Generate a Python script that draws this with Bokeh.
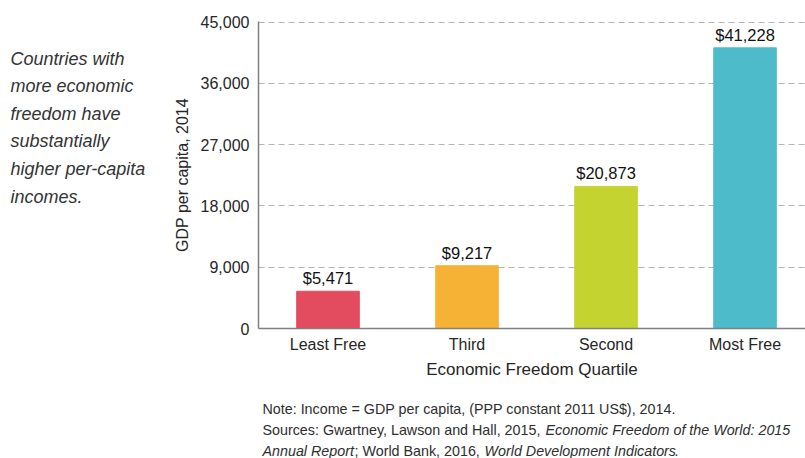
import numpy as np
from bokeh.plotting import figure
from bokeh.layouts import row, column
from bokeh.models import Range1d, FixedTicker, NumeralTickFormatter, ColumnDataSource
from bokeh.core.properties import value
from bokeh.embed import file_html
from bokeh.resources import INLINE

categories = ["Least Free", "Third", "Second", "Most Free"]
gdp = [5471, 9217, 20873, 41228]
colors = ["#E34B5F", "#F5B234", "#C5D330", "#4DBBC9"]
y_ticks = [0, 9000, 18000, 27000, 36000, 45000]
side_text = ["Countries with", "more economic", "freedom have", "substantially",
             "higher per-capita", "incomes."]

FONT = "Liberation Sans"
TXT = "#262626"

LEFT_W = 160
W, H = 805, 458
MAIN_H = 395
FRAME_L, FRAME_B = 258, 328

# ---------------- main chart ----------------
xs = np.arange(len(categories)) + 0.5
src = ColumnDataSource(dict(x=xs, top=gdp, color=colors,
                            lab=["${:,}".format(v) for v in gdp]))

p = figure(width=W - LEFT_W, height=MAIN_H, output_backend="svg", toolbar_location=None,
           x_range=Range1d(0, 3.935), y_range=Range1d(0, 45100),
           min_border_left=FRAME_L - LEFT_W, min_border_right=0, min_border_top=21,
           min_border_bottom=MAIN_H - FRAME_B, outline_line_color=None)

p.vbar(x="x", top="top", width=0.45, color="color", source=src)
p.text(x="x", y="top", text="lab", source=src, text_align="center",
       text_baseline="bottom", y_offset=-4, text_font=value(FONT),
       text_font_size="16.5px", text_color="#111111")

p.xaxis.ticker = FixedTicker(ticks=list(xs))
p.xaxis.major_label_overrides = {float(x): c for x, c in zip(xs, categories)}
p.yaxis.ticker = FixedTicker(ticks=y_ticks)
p.yaxis.formatter = NumeralTickFormatter(format="0,0")
for ax in (p.xaxis, p.yaxis):
    ax.major_tick_line_color = None
    ax.minor_tick_line_color = None
    ax.axis_line_color = "#808080"
    ax.axis_line_width = 1.5
    ax.major_label_text_font = FONT
    ax.major_label_text_font_size = "16px"
    ax.major_label_text_color = TXT
    ax.axis_label_text_font = FONT
    ax.axis_label_text_font_size = "17px"
    ax.axis_label_text_font_style = "normal"
    ax.axis_label_text_color = TXT
p.yaxis.axis_label = "GDP per capita, 2014"
p.yaxis.axis_label_text_font_size = "16px"
p.xaxis.axis_label = "Economic Freedom Quartile"
p.yaxis.major_label_standoff = 3
p.yaxis.axis_label_standoff = 7
p.xaxis.major_label_standoff = 1
p.xaxis.axis_label_standoff = 4

p.xgrid.grid_line_color = None
p.ygrid.grid_line_color = "#b5b5b5"
p.ygrid.grid_line_dash = "6 4"
p.ygrid.grid_line_width = 1


def text_panel(width, height, x0, y0, border_left=0):
    f = figure(width=width, height=height, output_backend="svg", toolbar_location=None,
               x_range=Range1d(x0 + border_left, x0 + width),
               y_range=Range1d(y0 + height, y0),
               x_axis_location=None, y_axis_location=None,
               min_border=0, min_border_left=border_left, outline_line_color=None)
    f.grid.visible = False
    return f


# ---------------- left italic text ----------------
left = text_panel(LEFT_W, H, 0, 0)
left.text(x=[10] * len(side_text), y=[58 + 27.6 * i for i in range(len(side_text))],
          text=side_text, text_font=value(FONT), text_font_size="18px",
          text_font_style="italic", text_color="#333333",
          text_baseline="middle", text_align="left")

# ---------------- notes ----------------
notes_x = [262, 262, 545, 262, 354, 484, 674]
notes_y = [408, 429, 429, 450, 450, 450, 450]
notes_t = ["Note: Income = GDP per capita, (PPP constant 2011 US$), 2014.",
           "Sources: Gwartney, Lawson and Hall, 2015, ",
           "Economic Freedom of the World: 2015",
           "Annual Report",
           "; World Bank, 2016, ",
           "World Development Indicators",
           "."]
notes_s = ["normal", "normal", "italic", "italic", "normal", "italic", "normal"]

bottom = text_panel(W - LEFT_W, H - MAIN_H, LEFT_W, MAIN_H, border_left=FRAME_L - LEFT_W)
nsrc = ColumnDataSource(dict(x=notes_x, y=notes_y, t=notes_t, s=notes_s))
bottom.text(x="x", y="y", text="t", text_font_style="s", source=nsrc,
            text_font=value(FONT), text_font_size="14.3px", text_color="#2e2e2e",
            text_baseline="middle", text_align="left")

layout = row(left, column(p, bottom, spacing=0), spacing=0)

open("out.html", "w").write(file_html(layout, INLINE))
